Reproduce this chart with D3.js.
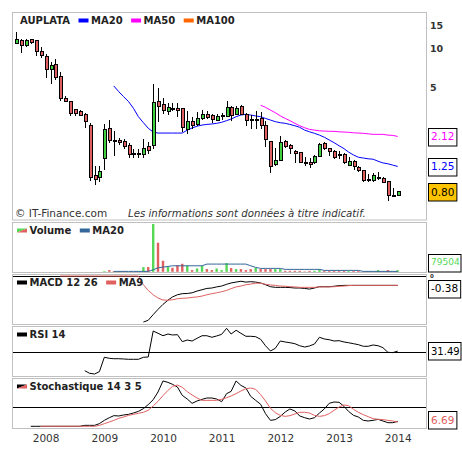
<!DOCTYPE html>
<html lang="fr">
<head>
  <meta charset="UTF-8" />
  <title>AUPLATA</title>
  <script src="https://d3js.org/d3.v7.min.js"></script>
  <style>
    body {
      margin: 0;
      background: #fff;
    }
    svg {
      display: block;
      font-family: Verdana, "DejaVu Sans", sans-serif;
    }
    .frame {
      fill: #fff;
      stroke: #c0c0c0;
      stroke-width: 1px;
    }
    .legend text {
      font-size: 10px;
      font-weight: bold;
      fill: #222;
    }
    .tick-label {
      font-size: 9.5px;
      font-weight: bold;
      fill: #333;
    }
    .value-box rect {
      stroke: #000;
      stroke-width: 1px;
    }
    .value-box text {
      font-size: 10.5px;
    }
    .line {
      fill: none;
      stroke-width: 1px;
    }
  </style>
</head>
<body>
  <svg id="chart" width="462" height="458"></svg>

  <script>
    // monthly candles, Jul 2007 .. Jan 2014
    const firstMonth = new Date(Date.UTC(2007, 6, 1));

    const opens = [10.85, 11.57, 10.60, 11.72, 11.43, 9.54, 8.68, 6.90, 7.58, 6.11,
      4.14, 3.93, 3.41, 3.31, 3.14, 2.59, 1.07, 1.03, 1.44, 2.44,
      1.98, 1.99, 1.93, 1.82, 1.56, 1.55, 1.55, 1.79, 1.81, 3.95,
      3.69, 3.28, 3.49, 3.49, 3.49, 2.41, 2.74, 2.63, 2.90, 3.14,
      3.08, 2.83, 2.99, 3.02, 3.54, 3.11, 3.61, 3.13, 2.86, 2.86,
      2.90, 2.55, 1.95, 1.30, 1.39, 1.94, 1.82, 1.64, 1.61, 1.35,
      1.34, 1.34, 1.50, 1.88, 1.70, 1.64, 1.53, 1.55, 1.28, 1.37,
      1.22, 1.17, 1.00, 0.98, 1.02, 1.01, 0.96, 0.75, 0.745];
    const highs = [13.25, 11.78, 11.78, 11.78, 11.64, 10.18, 9.05, 7.90, 8.28, 6.62,
      4.35, 3.97, 3.45, 3.37, 3.20, 2.70, 1.26, 1.25, 2.63, 2.83,
      2.33, 2.08, 2.03, 1.88, 1.70, 1.70, 2.02, 1.93, 5.30, 4.95,
      4.14, 3.84, 3.84, 3.80, 3.49, 3.33, 2.96, 3.28, 3.36, 3.31,
      3.14, 3.17, 3.22, 3.95, 3.64, 3.64, 3.67, 3.22, 3.09, 3.33,
      3.24, 2.77, 1.95, 1.73, 2.15, 2.00, 1.84, 1.67, 1.61, 1.48,
      1.46, 1.53, 1.88, 1.91, 1.73, 1.67, 1.64, 1.58, 1.48, 1.39,
      1.27, 1.17, 1.09, 1.11, 1.13, 1.03, 0.96, 0.85, 0.80];
    const lows = [10.73, 9.16, 10.23, 10.78, 8.78, 8.38, 5.89, 5.30, 5.72, 3.97,
      3.86, 3.05, 3.05, 3.05, 2.44, 0.975, 0.895, 0.95, 1.18, 1.88,
      1.50, 1.82, 1.70, 1.46, 1.46, 1.46, 1.46, 1.57, 1.70, 2.75,
      3.14, 3.08, 3.33, 2.99, 2.28, 2.21, 2.41, 2.56, 2.83, 2.90,
      2.67, 2.78, 2.85, 2.99, 2.80, 3.08, 3.08, 2.56, 2.40, 2.41,
      2.41, 1.76, 1.12, 1.27, 1.37, 1.73, 1.57, 1.33, 1.32, 1.27,
      1.21, 1.31, 1.49, 1.68, 1.50, 1.43, 1.42, 1.31, 1.26, 1.17,
      1.13, 0.95, 0.95, 0.95, 0.98, 0.93, 0.68, 0.74, 0.745];
    const closes = [11.70, 10.47, 11.57, 11.10, 9.49, 8.78, 6.90, 7.41, 5.96, 4.14,
      3.93, 3.18, 3.16, 3.09, 2.77, 1.02, 0.99, 1.15, 2.41, 1.98,
      1.97, 1.89, 1.79, 1.53, 1.55, 1.56, 1.72, 1.65, 3.86, 3.61,
      3.33, 3.54, 3.38, 3.33, 2.47, 2.74, 2.56, 2.90, 3.14, 2.96,
      2.87, 2.99, 3.05, 3.54, 3.08, 3.45, 3.13, 2.81, 2.85, 2.87,
      2.56, 2.01, 1.24, 1.39, 1.91, 1.79, 1.70, 1.57, 1.35, 1.34,
      1.30, 1.48, 1.84, 1.70, 1.62, 1.46, 1.52, 1.34, 1.37, 1.24,
      1.16, 0.98, 0.99, 1.06, 1.02, 0.95, 0.745, 0.755, 0.80];

    const ma20 = [null, null, null, null, null, null, null, null, null, null,
      null, null, null, null, null, null, null, null, null, null,
      5.15, 4.66, 4.27, 3.91, 3.48, 3.00, 2.70, 2.45, 2.29, 2.25,
      2.25, 2.25, 2.25, 2.25, 2.25, 2.37, 2.46, 2.54, 2.59, 2.62,
      2.64, 2.67, 2.72, 2.80, 2.88, 3.00, 3.09, 3.13, 3.09, 3.04,
      3.00, 2.91, 2.83, 2.75, 2.70, 2.67, 2.62, 2.56, 2.49, 2.37,
      2.30, 2.24, 2.17, 2.09, 1.99, 1.90, 1.80, 1.71, 1.61, 1.53,
      1.47, 1.45, 1.43, 1.42, 1.37, 1.33, 1.31, 1.28, 1.25];
    const ma50 = [null, null, null, null, null, null, null, null, null, null,
      null, null, null, null, null, null, null, null, null, null,
      null, null, null, null, null, null, null, null, null, null,
      null, null, null, null, null, null, null, null, null, null,
      null, null, null, null, null, null, null, null, null, null,
      3.67, 3.54, 3.37, 3.22, 3.05, 2.91, 2.80, 2.67, 2.56, 2.47,
      2.40, 2.37, 2.34, 2.33, 2.32, 2.32, 2.30, 2.29, 2.28, 2.26,
      2.25, 2.24, 2.22, 2.20, 2.20, 2.20, 2.17, 2.16, 2.12];

    const volumes = [0, 0, 0, 0, 0, 0, 0, 0, 0, 0,
      0, 0, 0, 0, 0, 0, 0, 0, 35000, 85000,
      35000, 35000, 35000, 0, 0, 35000, 236000, 236000, 2400000, 1460000,
      553000, 252000, 201000, 337000, 402000, 302000, 85000, 166000, 302000, 136000,
      85000, 166000, 85000, 438000, 186000, 136000, 136000, 85000, 136000, 201000,
      136000, 136000, 136000, 136000, 136000, 50000, 50000, 50000, 50000, 20000,
      50000, 50000, 136000, 50000, 50000, 50000, 50000, 50000, 50000, 50000,
      50000, 15000, 15000, 15000, 85000, 25000, 85000, 25000, 79504];
    const volumeMa20 = [null, null, null, null, null, null, null, null, null, null,
      null, null, null, null, null, null, null, null, null, null,
      20000, 20000, 20000, 20000, 20000, 20000, 20000, 20000, 100000, 201000,
      235000, 268000, 302000, 302000, 302000, 302000, 302000, 302000, 302000, 387000,
      387000, 387000, 387000, 387000, 387000, 387000, 387000, 387000, 302000, 221000,
      171000, 171000, 171000, 171000, 171000, 121000, 121000, 121000, 121000, 121000,
      121000, 121000, 121000, 70000, 70000, 70000, 70000, 70000, 70000, 70000,
      70000, 20000, 20000, 20000, 20000, 20000, 20000, 20000, 20000];

    const macd = [null, null, null, null, null, null, null, null, null, null,
      null, null, null, null, null, null, null, null, null, null,
      null, null, null, null, null, null, -2.11, -2.03, -1.77, -1.53,
      -1.30, -1.11, -0.96, -0.86, -0.81, -0.80, -0.77, -0.69, -0.63, -0.57,
      -0.55, -0.50, -0.46, -0.38, -0.32, -0.28, -0.24, -0.28, -0.26, -0.28,
      -0.32, -0.40, -0.49, -0.52, -0.52, -0.52, -0.53, -0.55, -0.55, -0.57,
      -0.60, -0.55, -0.49, -0.49, -0.49, -0.47, -0.44, -0.43, -0.43, -0.43,
      -0.43, -0.43, -0.43, -0.43, -0.43, -0.43, -0.43, -0.43, -0.43];
    const macdMa9 = [null, null, null, null, null, null, null, null, null, 0,
      0, 0, 0, 0, 0, 0, 0, 0, 0, 0,
      0, 0, 0, 0, 0, 0, -0.40, -0.66, -0.86, -1.01,
      -1.10, -1.11, -1.09, -1.04, -1.02, -1.01, -0.98, -0.96, -0.92, -0.86,
      -0.81, -0.77, -0.72, -0.66, -0.58, -0.50, -0.46, -0.40, -0.37, -0.33,
      -0.33, -0.38, -0.41, -0.43, -0.46, -0.47, -0.49, -0.50, -0.52, -0.52,
      -0.52, -0.52, -0.50, -0.50, -0.50, -0.49, -0.47, -0.46, -0.44, -0.43,
      -0.43, -0.43, -0.43, -0.43, -0.43, -0.43, -0.43, -0.43, -0.43];

    const rsi = [null, null, null, null, null, null, null, null, null, null,
      null, null, null, null, 7.4, 4.2, 3.3, 6.2, 23.9, 22.6,
      22.1, 22.1, 21.8, 21.4, 21.4, 21.4, 23.9, 24.2, 56.2, 53.4,
      50.4, 52.5, 51.3, 51.7, 43.1, 45.1, 43.9, 47.2, 50.4, 50.4,
      48.5, 50.1, 52.1, 59.5, 52.5, 57.1, 53.4, 49.7, 49.7, 49.2,
      46.0, 38.1, 31.6, 34.9, 43.9, 42.7, 41.8, 40.6, 38.1, 36.5,
      37.8, 40.2, 48.5, 46.4, 45.5, 43.9, 44.3, 42.7, 41.8, 40.6,
      39.4, 37.4, 37.4, 39.0, 38.1, 35.7, 30.0, 29.6, 31.49];

    const stochK = [null, null, null, 0, 0, 0, 0, 0, 0, 0,
      0, 0, 0, 0, 1.5, 1.5, 1.5, 4.2, 9.4, 13.6,
      16.8, 16.3, 17.9, 18.9, 21.0, 23.6, 27.9, 34.2, 42.0, 54.2,
      71.6, 69.4, 66.3, 62.1, 48.9, 43.1, 36.3, 40.0, 42.6, 44.7,
      44.7, 43.1, 38.9, 51.6, 55.2, 71.6, 64.7, 60.5, 47.3, 41.0,
      34.7, 20.0, 9.4, 10.5, 15.7, 22.6, 27.4, 24.2, 16.3, 13.6,
      11.5, 13.6, 21.0, 27.4, 36.3, 38.4, 37.9, 31.5, 23.6, 17.3,
      14.7, 9.4, 8.4, 9.4, 11.0, 8.4, 5.7, 5.7, 7.8];
    const stochD = [null, null, null, null, null, 0, 0, 0, 0, 0,
      0, 0, 0, 0, 0, 0, 0, 1.5, 4.2, 6.8,
      9.4, 12.6, 14.7, 17.3, 18.9, 20.5, 22.1, 25.3, 32.1, 39.5,
      48.4, 56.8, 63.1, 65.2, 61.6, 54.7, 49.5, 44.7, 41.0, 41.0,
      41.0, 41.0, 42.6, 45.2, 47.9, 51.6, 55.8, 59.4, 60.5, 58.4,
      50.0, 40.0, 28.4, 21.6, 17.3, 15.7, 16.8, 19.5, 22.1, 22.1,
      21.0, 17.3, 15.7, 16.8, 20.0, 25.3, 30.5, 33.7, 32.6, 26.8,
      22.1, 18.4, 15.2, 12.1, 11.0, 10.5, 9.4, 8.4, 6.69];

    const priceTicks = [5, 10, 15];
    const rsiLevel = 30;
    const stochLevel = 30;
    const lastMacd = -0.38;

    const green = '#3fcf3f';
    const red = '#e06060';

    const months = d3.utcMonth.range(firstMonth, d3.utcMonth.offset(firstMonth, closes.length));
    const candles = months.map((m, i) => ({
      date: m, o: opens[i], h: highs[i], l: lows[i], c: closes[i], v: volumes[i]
    }));

    const svg = d3.select('#chart');
    const left = 12.5, right = 426.5;

    const x = d3.scaleUtc()
      .domain([months[0], months[months.length - 1]])
      .range([16, 397.7]);

    // panels: [top, bottom]
    const panels = {
      price: [12.5, 220],
      volume: [222.5, 272.5],
      macd: [274.5, 324.5],
      rsi: [326.5, 376.5],
      stoch: [378.5, 428.5]
    };

    const yPrice = d3.scaleLog().domain([15, 0.8]).range([25.3, 191.8]);
    const yVol = d3.scaleLinear().domain([0, 2500000]).range([271.8, 222]);
    const yMacd = d3.scaleLinear().domain([0, -2.2]).range([276, 324]);
    const yRsi = d3.scaleLinear().domain([0, 100]).range([376.7, 295.4]);
    const yStoch = d3.scaleLinear().domain([0, 100]).range([426.3, 363]);

    function panel(name) {
      const [top, bottom] = panels[name];
      svg.append('rect').attr('class', 'frame')
        .attr('x', left).attr('y', top)
        .attr('width', right - left).attr('height', bottom - top);
      svg.append('clipPath').attr('id', 'clip-' + name)
        .append('rect')
        .attr('x', left + 0.5).attr('y', top + 0.5)
        .attr('width', right - left - 1).attr('height', bottom - top - 1);
      return svg.append('g').attr('clip-path', `url(#clip-${name})`);
    }

    function drawLine(g, values, yScale, color) {
      const line = d3.line()
        .defined(d => d !== null)
        .x((d, i) => x(months[i]))
        .y(d => yScale(d));
      g.append('path').datum(values)
        .attr('class', 'line')
        .attr('stroke', color)
        .attr('d', line);
    }

    function hLine(g, y) {
      g.append('line')
        .attr('x1', left).attr('x2', right)
        .attr('y1', Math.round(y) + 0.5).attr('y2', Math.round(y) + 0.5)
        .attr('stroke', '#000');
    }

    // legend: a swatch goes before each label unless color is null
    function legend(name, items, startX) {
      const top = panels[name][0];
      const g = svg.append('g').attr('class', 'legend');
      let cx = startX;
      items.forEach(item => {
        if (item.color) {
          const sw = g.append('g').attr('transform', `translate(${cx},${top + 6})`);
          if (Array.isArray(item.color)) {
            sw.append('polygon').attr('points', '0,0 10,0 0,4').attr('fill', item.color[0]);
            sw.append('polygon').attr('points', '10,0 10,4 0,4').attr('fill', item.color[1]);
          } else {
            sw.append('rect').attr('width', 10).attr('height', 4).attr('fill', item.color);
          }
          cx += 12.5;
        }
        const t = g.append('text').attr('x', cx).attr('y', top + 11.5).text(item.label);
        cx += t.node().getComputedTextLength() + 8.5;
      });
    }

    function valueBox(name, y, label, color, fill, margin = 0) {
      const [top, bottom] = panels[name];
      const h = 17.5;
      const cy = Math.max(top + h / 2, Math.min(bottom - h / 2 - margin, y));
      const g = svg.append('g').attr('class', 'value-box');
      const rect = g.append('rect')
        .attr('x', 428.5).attr('y', Math.round(cy - h / 2) + 0.5)
        .attr('height', h).attr('fill', fill);
      const t = g.append('text')
        .attr('x', 431).attr('y', cy).attr('dy', '0.36em')
        .attr('fill', color).text(label);
      // keep long labels inside the picture
      let size = 10.5;
      while (431 + t.node().getComputedTextLength() > 460 && size > 7) {
        size -= 0.5;
        t.style('font-size', size + 'px');
      }
      rect.attr('width', Math.min(t.node().getComputedTextLength() + 5, 461 - 428.5));
    }

    // ---- price panel
    const gPrice = panel('price');

    drawLine(gPrice, ma20, yPrice, '#0000ff');
    drawLine(gPrice, ma50, yPrice, '#ff00ff');

    const gCandles = gPrice.append('g').attr('shape-rendering', 'crispEdges');
    gCandles.selectAll('line.wick')
      .data(candles)
      .enter().append('line')
      .attr('class', 'wick')
      .attr('x1', d => Math.round(x(d.date)) + 0.5)
      .attr('x2', d => Math.round(x(d.date)) + 0.5)
      .attr('y1', d => yPrice(d.h))
      .attr('y2', d => yPrice(d.l))
      .attr('stroke', '#000');
    gCandles.selectAll('rect.body')
      .data(candles)
      .enter().append('rect')
      .attr('class', 'body')
      .attr('x', d => Math.round(x(d.date)) - 1)
      .attr('width', 3)
      .attr('y', d => yPrice(Math.max(d.o, d.c)))
      .attr('height', d => Math.max(1, yPrice(Math.min(d.o, d.c)) - yPrice(Math.max(d.o, d.c))))
      .attr('fill', d => d.c >= d.o ? green : red)
      .attr('stroke', '#000');

    svg.append('text').attr('x', 15).attr('y', 217)
      .attr('font-size', '10.5px').attr('fill', '#333')
      .text('© IT-Finance.com');
    svg.append('text').attr('x', 128).attr('y', 217)
      .attr('font-size', '10.2px').attr('font-style', 'italic').attr('fill', '#333')
      .text('Les informations sont données à titre indicatif.');

    svg.selectAll('text.price-tick')
      .data(priceTicks)
      .enter().append('text')
      .attr('class', 'tick-label price-tick')
      .attr('x', 430)
      .attr('y', d => yPrice(d))
      .attr('dy', '0.36em')
      .text(d => d);

    legend('price', [
      {label: 'AUPLATA', color: null},
      {label: 'MA20', color: '#0000ff'},
      {label: 'MA50', color: '#ff00ff'},
      {label: 'MA100', color: '#ff6600'}
    ], 20);

    // ---- volume panel
    const gVol = panel('volume');
    gVol.selectAll('rect')
      .data(candles.filter(d => d.v > 0))
      .enter().append('rect')
      .attr('x', d => x(d.date) - 1.2)
      .attr('width', 2.4)
      .attr('y', d => yVol(d.v))
      .attr('height', d => yVol(0) - yVol(d.v))
      .attr('fill', d => d.c >= d.o ? '#55d855' : red);
    drawLine(gVol, volumeMa20, yVol, '#336699');
    legend('volume', [
      {label: 'Volume', color: ['#55d855', red]},
      {label: 'MA20', color: '#336699'}
    ], 17);

    // ---- MACD panel
    const gMacd = panel('macd');
    hLine(gMacd, yMacd(0) - 0.5);
    drawLine(gMacd, macd, yMacd, '#000');
    drawLine(gMacd, macdMa9, yMacd, red);
    legend('macd', [
      {label: 'MACD 12 26', color: '#000'},
      {label: 'MA9', color: red}
    ], 17);

    // ---- RSI panel
    const gRsi = panel('rsi');
    hLine(gRsi, yRsi(rsiLevel) - 0.5);
    drawLine(gRsi, rsi, yRsi, '#000');
    legend('rsi', [{label: 'RSI 14', color: '#000'}], 17);

    // ---- Stochastic panel
    const gStoch = panel('stoch');
    hLine(gStoch, yStoch(stochLevel) - 0.5);
    drawLine(gStoch, stochK, yStoch, '#000');
    drawLine(gStoch, stochD, yStoch, red);
    legend('stoch', [{label: 'Stochastique 14 3 5', color: ['#000', red]}], 17);

    // ---- value labels on the right
    const last = closes.length - 1;
    valueBox('price', yPrice(ma50[last]), ma50[last].toFixed(2), '#ff00ff', '#fff');
    valueBox('price', yPrice(ma20[last]), ma20[last].toFixed(2), '#0000ff', '#fff');
    valueBox('price', yPrice(closes[last]), closes[last].toFixed(2), '#000', '#ffc400');
    valueBox('volume', yVol(volumes[last]), String(volumes[last]), '#55d855', '#fff', 1.5);
    // MACD zero tick, squeezed between the volume and MACD value boxes
    svg.append('text').attr('class', 'tick-label')
      .attr('x', 430).attr('y', 278).style('font-size', '5.5px').text('0');
    valueBox('macd', yMacd(lastMacd) + 4, lastMacd.toFixed(2), '#000', '#fff');
    valueBox('rsi', yRsi(rsi[last]), rsi[last].toFixed(2), '#000', '#fff');
    valueBox('stoch', yStoch(stochD[last]), stochD[last].toFixed(2), red, '#fff');

    // ---- years
    const xAxis = d3.axisBottom(x)
      .ticks(d3.utcYear.every(1))
      .tickFormat(d3.utcFormat('%Y'))
      .tickSize(0)
      .tickPadding(3);
    const gx = svg.append('g')
      .attr('transform', 'translate(0,431.6)')
      .call(xAxis);
    gx.select('.domain').remove();
    gx.selectAll('text')
      .attr('font-family', 'Verdana, "DejaVu Sans", sans-serif')
      .attr('font-size', '10.5px')
      .attr('fill', '#333');
  </script>
</body>
</html>
